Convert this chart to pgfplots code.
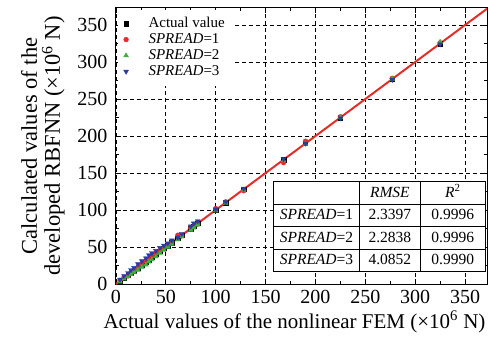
\documentclass[border=0pt]{standalone}
\usepackage{fontspec}
\setmainfont{Liberation Serif}
\usepackage{pgfplots}
\pgfplotsset{compat=1.18}
\usepackage{array}
\definecolor{cred}{RGB}{228,45,40}
\definecolor{cgreen}{RGB}{60,175,60}
\definecolor{cblue}{RGB}{45,60,160}
\pgfplotstableread{
x y
4 4
8 8
12 12
15 15
18 18
22 22
26 26
30 30
33 33
36 36
40 40
44 44
48 48
52 52
56 56
62 62
66 66
75 75
78 78
82 82
100 100
110 110
128 128
168 168
190 190
225 225
277 277
325 325
}\actual
\pgfplotstableread{
x y
4 5
8 9
12 11
15 16
18 19
22 23
26 27
30 31
33 34
36 38
40 41
44 45
48 49
52 52
56 57
62 66
66 65
75 76
78 78
82 81
100 102
110 111
128 126
168 164
190 193
225 226
277 278
325 326
}\sone
\pgfplotstableread{
x y
4 3
8 7
12 10
15 13
18 16
22 19
26 23
30 26
33 30
36 33
40 37
44 42
48 46
52 50
56 54
62 60
66 64
75 73
78 76
82 80
100 99
110 109
128 127
168 167
190 189
225 225
277 277
325 327
}\stwo
\pgfplotstableread{
x y
4 6
8 11
12 15
15 19
18 22
22 27
26 31
30 35
33 39
36 42
40 45
44 49
48 52
52 55
56 59
62 63
66 68
75 78
78 82
82 85
100 101
110 111
128 129
168 169
190 190
225 224
277 276
325 324
}\sthree
\begin{document}
\begin{tikzpicture}
\begin{axis}[
  scale only axis, width=371pt, height=276pt,
  xmin=0, xmax=372, ymin=0, ymax=373,
  xtick={0,50,...,350}, ytick={0,50,...,350},
  minor tick num=1,
  tick align=inside,
  major tick length=5pt, minor tick length=3pt,
  grid=major,
  major grid style={black, line width=0.8pt, dash pattern=on 4pt off 3pt},
  axis line style={line width=1pt},
  tick style={black, line width=0.8pt},
  /pgf/number format/assume math mode=true,
  ticklabel style={font=\fontsize{20}{20}\selectfont},
  yticklabel style={xshift=-5pt},
  xticklabel style={yshift=-3pt},
  xlabel={Actual values of the nonlinear FEM (×10\textsuperscript{6} N)},
  ylabel={Calculated values of the\\developed RBFNN (×10\textsuperscript{6} N)},
  xlabel style={font=\fontsize{21}{24}\selectfont, xshift=-7pt},
  ylabel style={font=\fontsize{22.5}{23}\selectfont, align=center},
  ylabel shift=6pt,
  legend style={draw=none, fill=white, at={(rel axis cs:0.004,0.995)}, anchor=north west,
    font=\fontsize{15}{16}\selectfont, row sep=0pt, inner sep=6pt,
    nodes={inner sep=1pt, text height=11pt, text depth=3pt},
    /tikz/every odd column/.append style={column sep=19pt}},
  legend cell align=left,
]
\addplot[only marks, mark=square*, mark size=2.2pt, black] table {\actual};
\addlegendentry{Actual value}
\addplot[only marks, mark=*, mark size=2.4pt, cred, draw=cred] table {\sone};
\addlegendentry{\textit{SPREAD}=1}
\addplot[only marks, mark=triangle*, mark size=2.8pt, cgreen] table {\stwo};
\addlegendentry{\textit{SPREAD}=2}
\addplot[only marks, mark=triangle*, mark options={rotate=180}, mark size=2.8pt, cblue] table {\sthree};
\addlegendentry{\textit{SPREAD}=3}
\addplot[cred, line width=2pt, forget plot] coordinates {(0,0) (372,372)};
\node[anchor=south east, fill=white, inner sep=0pt, font=\fontsize{15.5}{18}\selectfont]
  at (rel axis cs:0.997,0.043) {%
  \setlength{\tabcolsep}{0pt}\setlength{\arrayrulewidth}{0.9pt}\renewcommand{\arraystretch}{1.2}%
  \begin{tabular}{|>{\centering\arraybackslash}p{85pt}|>{\centering\arraybackslash}p{60pt}|>{\centering\arraybackslash}p{64pt}|}
  \hline
   & \textit{RMSE} & \textit{R}\textsuperscript{2}\\ \hline
  \textit{SPREAD}=1 & 2.3397 & 0.9996\\ \hline
  \textit{SPREAD}=2 & 2.2838 & 0.9996\\ \hline
  \textit{SPREAD}=3 & 4.0852 & 0.9990\\ \hline
  \end{tabular}};
\end{axis}
\path (current axis.south west) ++(-116pt,-61pt);
\path (current axis.north east) ++(2pt,8pt);
\end{tikzpicture}
\end{document}
